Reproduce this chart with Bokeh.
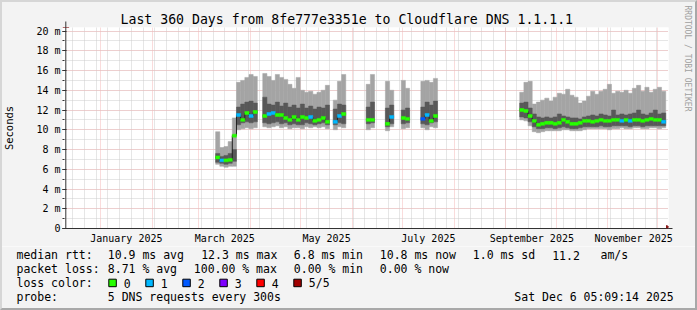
import pandas as pd
from bokeh.plotting import figure
from bokeh.layouts import column
from bokeh.models import (ColumnDataSource, Range1d, FixedTicker, SingleIntervalTicker,
                          DatetimeTickFormatter, Arrow, NormalHead, Title, InlineStyleSheet)
from bokeh.core.properties import value
from bokeh.embed import file_html
from bokeh.resources import INLINE

# ---------------- data ----------------
graph_end = "2025-12-06 05:09:14"
graph_days = 360
step_days = 2.5

# runs of consecutive samples (start time, number of 2.5-day samples)
seg_start = ["2025-03-11 00:00", "2025-04-08 06:00", "2025-05-20 12:00", "2025-06-09 06:00",
             "2025-06-20 18:00", "2025-06-30 06:00", "2025-07-12 00:00", "2025-09-09 06:00"]
seg_bins = [10, 16, 3, 2, 2, 2, 4, 35]

# smoke: 5th (max), 4th, median, 2nd, 1st (min) ping, in ms
ping_5 = [9.8, 8.2, 8.3, 8.8, 11.2, 14.8, 15.0, 15.3, 15.6, 15.4,
          15.7, 15.4, 15.0, 15.6, 15.3, 15.1, 14.6, 14.2, 15.3, 14.0, 13.8, 13.9, 13.6, 13.8, 14.0, 14.5,
          13.0, 14.9, 15.6,
          14.6, 15.6,
          14.9, 14.0,
          15.0, 14.2,
          14.9, 15.0, 14.8, 15.2,
          13.8, 14.8, 14.9, 12.6, 12.8, 13.0, 13.2, 12.9, 13.3, 13.7, 13.6, 14.1, 13.5, 13.3, 12.7, 12.9, 13.4, 13.9,
          13.6, 13.9, 14.1, 14.6, 13.7, 13.9, 13.8, 14.0, 13.7, 14.2, 14.5, 13.9, 14.3, 13.8, 14.1, 14.3, 13.9]
ping_4 = [7.6, 7.3, 7.4, 7.6, 8.0, 12.3, 12.6, 12.8, 12.9, 12.7,
          13.3, 12.6, 12.5, 12.8, 12.4, 12.7, 12.3, 12.5, 12.2, 12.6, 12.2, 12.4, 12.1, 12.3, 12.2, 12.5,
          12.1, 12.6, 12.5,
          12.3, 12.8,
          12.2, 12.5,
          12.0, 12.2,
          12.3, 12.8, 12.5, 12.9,
          12.7, 12.8, 12.2, 11.6, 11.3, 11.2, 11.3, 11.2, 11.3, 11.6, 11.4, 11.3, 11.2, 11.2, 11.1, 11.3, 11.4, 11.5,
          11.4, 11.6, 11.5, 11.4, 12.0, 11.5, 11.6, 11.5, 11.6, 11.7, 12.0, 11.6, 11.5, 11.7, 12.0, 11.6, 11.7]
median = [7.2, 6.9, 6.9, 6.95, 9.4, 11.5, 11.0, 11.7, 11.4, 11.8,
          11.4, 11.6, 11.7, 11.5, 11.5, 11.2, 11.0, 11.3, 11.0, 11.3, 11.2, 11.3, 10.9, 11.0, 11.2, 10.8,
          10.8, 11.4, 11.6,
          11.0, 11.0,
          10.6, 11.3,
          11.2, 11.1,
          11.1, 11.5, 10.9, 11.4,
          12.0, 11.9, 11.4, 10.9, 10.5, 10.6, 10.7, 10.7, 10.6, 10.7, 11.0, 10.8, 10.6, 10.6, 10.7, 10.9, 10.9, 10.8,
          10.9, 11.0, 10.9, 10.9, 11.0, 11.0, 10.9, 11.0, 10.9, 11.0, 11.0, 10.9, 11.0, 11.1, 11.0, 11.0, 10.8]
ping_2 = [6.7, 6.6, 6.5, 6.6, 6.8, 10.5, 10.7, 10.8, 10.7, 10.8,
          10.7, 10.6, 10.7, 10.8, 10.6, 10.7, 10.5, 10.6, 10.5, 10.5, 10.7, 10.6, 10.5, 10.6, 10.7, 10.5,
          10.5, 10.7, 10.6,
          10.6, 10.7,
          10.3, 10.6,
          10.6, 10.7,
          10.6, 10.5, 10.7, 10.8,
          11.3, 11.2, 10.8, 10.3, 10.1, 10.1, 10.2, 10.2, 10.1, 10.2, 10.3, 10.2, 10.1, 10.1, 10.2, 10.3, 10.3, 10.3,
          10.3, 10.4, 10.3, 10.3, 10.4, 10.4, 10.4, 10.4, 10.3, 10.4, 10.4, 10.3, 10.4, 10.4, 10.4, 10.4, 10.4]
ping_1 = [6.5, 6.3, 6.2, 6.3, 6.3, 10.0, 10.1, 10.2, 10.1, 10.2,
          10.3, 10.2, 10.3, 10.4, 10.2, 10.3, 10.1, 10.2, 10.2, 10.1, 10.3, 10.2, 10.3, 10.2, 10.3, 10.1,
          10.0, 10.3, 10.2,
          10.0, 10.2,
          9.9, 10.3,
          10.1, 10.2,
          10.2, 10.0, 10.3, 10.2,
          11.0, 10.9, 10.4, 9.8, 9.7, 9.8, 9.9, 9.9, 9.9, 9.9, 10.0, 10.0, 9.9, 9.9, 9.9, 10.0, 10.1, 10.1,
          10.1, 10.1, 10.1, 10.0, 10.1, 10.1, 10.2, 10.1, 10.1, 10.2, 10.2, 10.1, 10.1, 10.2, 10.2, 10.1, 10.2]
loss = [0, 1, 0, 0, 0, 1, 0, 0, 1, 0,
        0, 1, 1, 0, 0, 0, 0, 0, 0, 0, 0, 1, 0, 0, 0, 0,
        1, 1, 0,
        0, 0,
        0, 1,
        0, 0,
        2, 1, 0, 0,
        0, 0, 0, 0, 0, 0, 0, 0, 0, 0, 0, 0, 0, 0, 0, 0, 0, 0,
        0, 0, 0, 0, 0, 0, 1, 0, 1, 0, 0, 0, 0, 0, 0, 0, 1]

loss_labels = ["0", "1", "2", "3", "4", "5/5"]
loss_colors = ["#26ff00", "#00b8ff", "#0059ff", "#7e00ff", "#ff0000", "#a00000"]

y_ticks = list(range(0, 21, 2))
y_tick_labels = ["0", "2 m", "4 m", "6 m", "8 m", "10 m", "12 m", "14 m", "16 m", "18 m", "20 m"]
month_label_dates = ["2025-01-16 12:00", "2025-03-16 12:00", "2025-05-16 12:00",
                     "2025-07-16 12:00", "2025-09-16 12:00", "2025-11-16 12:00"]
month_grid_dates = ["2025-01-01", "2025-02-01", "2025-03-01", "2025-04-01", "2025-05-01", "2025-06-01",
                    "2025-07-01", "2025-08-01", "2025-09-01", "2025-10-01", "2025-11-01", "2025-12-01"]
week_grid_first = "2024-12-15 12:00"

title_text = "Last 360 Days from 8fe777e3351e to Cloudflare DNS 1.1.1.1"
rtt_stats = ["10.9 ms avg", "12.3 ms max", "6.8 ms min", "10.8 ms now", "1.0 ms sd", "11.2", "am/s"]
loss_stats = ["8.71 % avg", "100.00 % max", "0.00 % min", "0.00 % now"]
probe_text = "5 DNS requests every 300s"
stamp_text = "Sat Dec  6 05:09:14 2025"
credit_text = "RRDTOOL / TOBI OETIKER"

# ---------------- styling constants ----------------
FONT = "DejaVu Sans Mono"
BG = "#f3f3f3"
SMOKE_LIGHT = "#a4a4a4"
SMOKE_DARK = "#585858"
MED_LINE = "#202020"
MGRID = "#f5b8b8"
GRID = "#cccccc"
AXIS = "#333333"
ARROW = "#8b1a1a"
W = 697
H_MAIN, H_LEG = 246, 64
FL, FR, FT, FB = 62, 668, 27, 228     # frame edges on the canvas (px)
PX_PER_DAY = 1.6686
PX_PER_MS = 9.875
DAY_MS = 86400000.0

def ms(ts):
    return pd.Timestamp(ts).value / 1e6

t_end = pd.Timestamp(graph_end)
t_start = t_end - pd.Timedelta(days=graph_days)
x_lo = ms(t_start) - (65.3 - FL) / PX_PER_DAY * DAY_MS
x_hi = x_lo + (FR - FL) / PX_PER_DAY * DAY_MS
y_hi = (FB - FT) / PX_PER_MS

# bins
step = pd.Timedelta(days=step_days)
lefts, rights, seg_of = [], [], []
for si, (s, n) in enumerate(zip(seg_start, seg_bins)):
    t0 = pd.Timestamp(s)
    for k in range(n):
        lefts.append(ms(t0 + k * step))
        rights.append(ms(t0 + (k + 1) * step))
        seg_of.append(si)

assert len(lefts) == len(ping_5) == len(ping_4) == len(median) == len(ping_2) == len(ping_1) == len(loss)

half = 0.15
src = ColumnDataSource(dict(
    left=lefts, right=rights, p1=ping_1, p2=ping_2, p4=ping_4, p5=ping_5,
    mlo=[m - half for m in median], mhi=[m + half for m in median],
    color=[loss_colors[l] for l in loss],
))

p = figure(width=W, height=H_MAIN, x_axis_type="datetime",
           x_range=Range1d(x_lo, x_hi), y_range=Range1d(0, y_hi),
           output_backend="svg", toolbar_location=None,
           min_border_left=FL, min_border_right=W - FR, min_border_top=FT,
           min_border_bottom=H_MAIN - FB)
p.border_fill_color = BG
p.background_fill_color = "white"
p.outline_line_color = None

# title
p.title.text = title_text
p.title.align = "left"
p.title.offset = 120 - FL
p.title.standoff = 1
p.title.text_font = FONT
p.title.text_font_size = "13.2px"
p.title.text_font_style = "normal"
p.title.text_color = "black"

# vertical credit on the right (a thin blank spacer first pushes it to the canvas edge)
p.add_layout(Title(text=" ", text_font_size="1px", standoff=11), "right")
p.add_layout(Title(text=credit_text, align="left", offset=-22, text_font=FONT, text_font_size="8px",
                   text_font_style="normal", text_color="#a0a0a0", standoff=0), "right")

# grids
p.xgrid.ticker = FixedTicker(ticks=[ms(d) for d in month_grid_dates],
                             minor_ticks=[ms(d) for d in pd.date_range(week_grid_first, t_end, freq="7D")])
p.xgrid.grid_line_color = MGRID
p.xgrid.grid_line_dash = "1 1"
p.xgrid.minor_grid_line_color = GRID
p.xgrid.minor_grid_line_dash = "1 1"
p.ygrid.ticker = SingleIntervalTicker(interval=2, num_minor_ticks=2)
p.ygrid.grid_line_color = MGRID
p.ygrid.grid_line_dash = "1 1"
p.ygrid.minor_grid_line_color = GRID
p.ygrid.minor_grid_line_dash = "1 1"

# smoke
p.quad(left="left", right="right", bottom="p1", top="p5", source=src,
       fill_color=SMOKE_LIGHT, line_color=SMOKE_LIGHT, line_width=0.5)
p.quad(left="left", right="right", bottom="p2", top="p4", source=src,
       fill_color=SMOKE_DARK, line_color=SMOKE_DARK, line_width=0.5)

# median step line
xs, ys = [], []
for si in range(len(seg_start)):
    idx = [i for i in range(len(lefts)) if seg_of[i] == si]
    sx, sy = [], []
    for i in idx:
        sx += [lefts[i], rights[i]]
        sy += [median[i], median[i]]
    xs.append(sx)
    ys.append(sy)
p.multi_line(xs, ys, line_color=MED_LINE, line_width=1)

# median bars coloured by loss
p.quad(left="left", right="right", bottom="mlo", top="mhi", source=src,
       fill_color="color", line_color="color", line_width=0.5)

# axes
yax = p.yaxis[0]
yax.ticker = SingleIntervalTicker(interval=2, num_minor_ticks=2)
yax.major_label_overrides = {v: t for v, t in zip(y_ticks, y_tick_labels)}
yax.axis_line_color = None
yax.major_tick_in = 4
yax.major_tick_out = 0
yax.minor_tick_in = 2
yax.minor_tick_out = 0
yax.major_tick_line_color = AXIS
yax.minor_tick_line_color = AXIS
yax.major_label_standoff = 2
yax.major_label_text_font = FONT
yax.major_label_text_font_size = "10px"
yax.major_label_text_color = "black"
yax.axis_label = "Seconds"
yax.axis_label_text_font = FONT
yax.axis_label_text_font_size = "10.5px"
yax.axis_label_text_font_style = "normal"
yax.axis_label_text_color = "black"
yax.axis_label_standoff = 18

xax = p.xaxis[0]
xax.ticker = FixedTicker(ticks=[ms(d) for d in month_label_dates])
fmt = "%B %Y"
xax.formatter = DatetimeTickFormatter(milliseconds=fmt, seconds=fmt, minsec=fmt, minutes=fmt,
                                      hourmin=fmt, hours=fmt, days=fmt, months=fmt, years=fmt)
xax.axis_line_color = AXIS
xax.major_tick_in = 0
xax.major_tick_out = 0
xax.minor_tick_in = 0
xax.minor_tick_out = 0
xax.major_label_standoff = 4
xax.major_label_text_font = FONT
xax.major_label_text_font_size = "10px"
xax.major_label_text_color = "black"

# axis arrows
p.add_layout(Arrow(end=NormalHead(size=6, fill_color=ARROW, line_color=ARROW),
                   x_start=ms(t_start), y_start=0, x_end=ms(t_start), y_end=(FB - 21) / PX_PER_MS,
                   line_color=AXIS, line_width=1))
p.add_layout(Arrow(end=NormalHead(size=6, fill_color=ARROW, line_color=ARROW),
                   x_start=x_lo, y_start=0, x_end=x_hi + 4 / PX_PER_DAY * DAY_MS, y_end=0,
                   line_color=AXIS, line_width=1))

# ---------------- legend strip (coordinates = canvas pixels) ----------------
leg = figure(width=W, height=H_LEG, x_range=Range1d(0, W), y_range=Range1d(H_MAIN + H_LEG, H_MAIN),
             output_backend="svg", toolbar_location=None, x_axis_location=None, y_axis_location=None,
             min_border=0, min_border_left=0, min_border_right=0, min_border_top=0, min_border_bottom=0)
leg.title.text = ""
leg.grid.visible = False
leg.outline_line_color = None
leg.background_fill_color = BG
leg.border_fill_color = BG
for fig in (p, leg):
    if hasattr(fig, "frame_align"):
        fig.frame_align = False

row1, row2, row3, row4 = 254.5, 268.5, 282.5, 296.5
tx, ty, tt = [], [], []
def put(t, x, y):
    tx.append(x); ty.append(y); tt.append(t)

put("median rtt:", 16, row1)
for t, X in zip(rtt_stats, [107.3, 200.7, 293.3, 379.3, 472.3, 551.7, 600]):
    put(t, X, row1)
put("packet loss:", 16, row2)
for t, X in zip(loss_stats, [107.3, 193.3, 293.3, 379.3]):
    put(t, X, row2)
put("loss color:", 16, row3)
box_x = [108.3 + 37 * i for i in range(len(loss_labels))]
for t, bx in zip(loss_labels, box_x):
    put(t, bx + 15, row3)
put("probe:", 16, row4)
put(probe_text, 107.3, row4)

leg.text(x=tx, y=ty, text=tt, text_font=value(FONT), text_font_size=value("11.5px"),
         text_baseline="middle", text_align="left", text_color="black")
leg.text(x=[680], y=[row4], text=[stamp_text], text_font=value(FONT), text_font_size=value("11.5px"),
         text_baseline="middle", text_align="right", text_color="black")
leg.quad(left=box_x, right=[b + 7.5 for b in box_x], top=[278.7] * len(box_x),
         bottom=[286.2] * len(box_x), fill_color=loss_colors, line_color="black", line_width=1)

frame_css = InlineStyleSheet(css="""
:host { position: relative; }
:host::after {
  content: ""; position: absolute; left: 0; top: 0; right: 0; bottom: 0;
  box-sizing: border-box; pointer-events: none;
  border-top: 2px solid #d6d6d6; border-left: 2px solid #d6d6d6;
  border-right: 2px solid #a8a8a8; border-bottom: 2px solid #a8a8a8;
}
""")
layout = column(p, leg, spacing=0, stylesheets=[frame_css])
open("out.html", "w").write(file_html(layout, INLINE))
